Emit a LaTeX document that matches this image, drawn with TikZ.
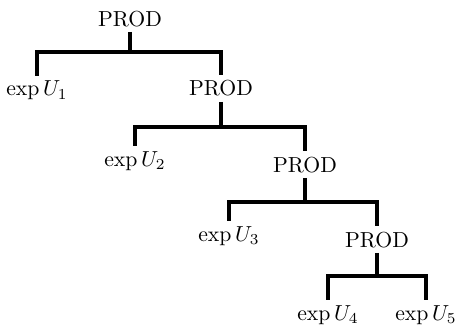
\documentclass[tikz,border=0pt]{standalone}
\usetikzlibrary{positioning}

\begin{document}
\begin{tikzpicture}[x=0.46pt, y=-0.46pt,
  prod/.style={anchor=base, inner sep=2.3pt},
  leaf/.style={anchor=base, inner sep=2.3pt},
  edge/.style={line width=1.4pt},
]
\useasboundingbox (0,0) rectangle (457,327);

% nodes, placed level by level
\node[prod] (p1) at (130,26) {PROD};
\node[leaf] (e1) at (37,96) {$\exp U_1$};
\node[prod] (p2) at (221,96) {PROD};
\node[leaf] (e2) at (135,166) {$\exp U_2$};
\node[prod] (p3) at (305,172) {PROD};
\node[leaf] (e3) at (229,241) {$\exp U_3$};
\node[prod] (p4) at (377,247) {PROD};
\node[leaf] (e4) at (328,320) {$\exp U_4$};
\node[leaf] (e5) at (426,320) {$\exp U_5$};

% forks
\draw[edge] (p1.south) -- (p1.south |- 0,52) coordinate (f1) -| (e1.north);
\draw[edge] (f1) -| (p2.north);

\draw[edge] (p2.south) -- (p2.south |- 0,127) coordinate (f2) -| (e2.north);
\draw[edge] (f2) -| (p3.north);

\draw[edge] (p3.south) -- (p3.south |- 0,202) coordinate (f3) -| (e3.north);
\draw[edge] (f3) -| (p4.north);

\draw[edge] (p4.south) -- (p4.south |- 0,276) coordinate (f4) -| (e4.north);
\draw[edge] (f4) -| (e5.north);

\end{tikzpicture}
\end{document}
